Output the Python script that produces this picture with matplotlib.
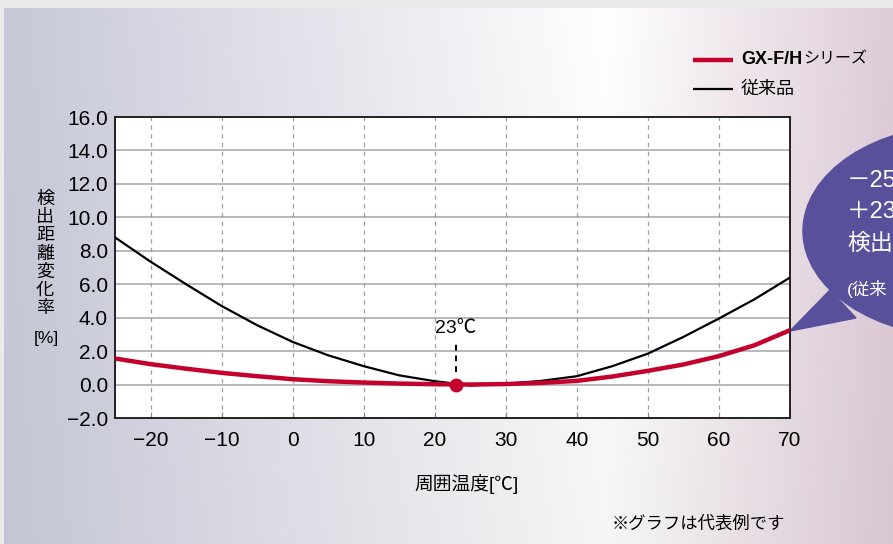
import matplotlib

matplotlib.use("Agg")
import matplotlib.pyplot as plt
import numpy as np
from matplotlib.patches import Ellipse, Polygon

plt.rcParams["font.family"] = ["Liberation Sans", "Noto Sans CJK JP", "DejaVu Sans"]

# 周囲温度 [℃]
temps = [-25, -20, -15, -10, -5, 0, 5, 10, 15, 20, 25, 30, 35, 40, 45, 50, 55, 60, 65, 70]
# 従来品
conventional = [8.8, 7.35, 6.0, 4.7, 3.55, 2.55, 1.75, 1.1, 0.55, 0.2, -0.05, 0.05,
                0.22, 0.5, 1.1, 1.85, 2.85, 3.95, 5.1, 6.4]
# GX-F/Hシリーズ
gxfh = [1.56, 1.22, 0.95, 0.7, 0.5, 0.32, 0.2, 0.12, 0.06, 0.02, 0.0, 0.03,
        0.1, 0.22, 0.48, 0.82, 1.2, 1.7, 2.35, 3.25]
ref_temp = 23
ref_label = "23℃"
x_ticks = [-20, -10, 0, 10, 20, 30, 40, 50, 60, 70]
y_ticks = [-2, 0, 2, 4, 6, 8, 10, 12, 14, 16]

W, H = 893, 544
RED = "#c4002d"
PURPLE = "#58509a"

fig = plt.figure(figsize=(W / 100, H / 100), dpi=100)

# 背景グラデーション
bg = fig.add_axes([0, 0, 1, 1], zorder=0)
bg.set_xlim(0, W)
bg.set_ylim(H, 0)
bg.axis("off")
xs = np.linspace(0, 1, W)
ys = np.linspace(0, 1, H)
left = np.array([0.78, 0.785, 0.845])
mid = np.array([1.0, 1.0, 1.0])
right = np.array([0.87, 0.80, 0.85])
t = xs[None, :, None]
pivot = 0.68
row = np.where(t < pivot,
               left + (mid - left) * (t / pivot),
               mid + (right - mid) * ((t - pivot) / (1 - pivot)))
img = np.repeat(row, H, axis=0)
img = img - 0.035 * ys[:, None, None] * (1 - np.abs(xs[None, :, None] - pivot))
img = np.clip(img, 0, 1)
img[:8, :, :] = 0.92
img[:, :4, :] = 0.92
bg.imshow(img, extent=(0, W, H, 0), aspect="auto", interpolation="bilinear")

# 吹き出し
bg.add_patch(Ellipse((963, 231), 320, 212, color=PURPLE, zorder=2))
bg.add_patch(Polygon([(790, 331), (830, 290), (856, 318)], closed=True,
                     color=PURPLE, zorder=2))
for txt, yy, fs in [("－25", 181, 17), ("＋23", 212, 17), ("検出", 243, 16.5), ("(従来", 289, 12.5)]:
    bg.text(847, yy, txt, color="white", fontsize=fs, va="center", ha="left", zorder=3)

# 凡例
bg.plot([693, 733], [60, 60], color=RED, lw=3.2, solid_capstyle="butt")
bg.plot([693, 733], [89, 89], color="black", lw=1.6, solid_capstyle="butt")
t1 = bg.text(741, 60, "GX-F/H", fontsize=13, fontweight="bold", va="center", ha="left")
fig.canvas.draw()
bb = t1.get_window_extent(fig.canvas.get_renderer())
bg.text(bb.x1 + 1, 59, "シリーズ", fontsize=11.5, va="center", ha="left")
bg.text(741, 89, "従来品", fontsize=13, va="center", ha="left")

# 軸ラベル・注記
bg.text(45, 254, "\n".join("検出距離変化率"), fontsize=13, ha="center", va="center",
        linespacing=1.1)
bg.text(46, 339, "[%]", fontsize=12.5, ha="center", va="center")
bg.text(467, 484, "周囲温度[℃]", fontsize=13.5, ha="center", va="center")
bg.text(612, 523, "※グラフは代表例です", fontsize=12.5, ha="left", va="center")

# メインのグラフ
ax = fig.add_axes([115 / W, 1 - 418 / H, 675 / W, 301 / H], zorder=1)
ax.set_facecolor("white")
ax.set_xlim(-25, 70)
ax.set_ylim(-2, 16)
for y in y_ticks[1:-1]:
    ax.axhline(y, color="#a4a4ac", lw=1.1, zorder=1)
for x in x_ticks:
    ax.axvline(x, color="#a0a0a0", lw=0.9, ls=(0, (3.5, 3.5)), zorder=1)

ax.plot(temps, conventional, color="black", lw=1.6, zorder=3)
ax.plot(temps, gxfh, color=RED, lw=3.2, zorder=4, solid_capstyle="round")
ax.plot([ref_temp], [0], "o", color=RED, ms=9, zorder=5)
ax.plot([ref_temp, ref_temp], [0.75, 2.55], color="black", lw=1.4, ls=(0, (3, 2.5)), zorder=5)
ax.text(ref_temp, 3.35, ref_label, fontsize=14, ha="center", va="center", zorder=5)

ax.set_xticks(x_ticks)
ax.set_xticklabels([str(v).replace("-", "−") for v in x_ticks])
ax.set_yticks(y_ticks)
ax.set_yticklabels([f"{v:.1f}".replace("-", "−") for v in y_ticks])
ax.tick_params(axis="x", direction="in", length=4, width=0.8, color="#888888",
               labelsize=15, pad=9)
ax.tick_params(axis="y", length=0, labelsize=15, pad=5)
for s in ax.spines.values():
    s.set_linewidth(1.4)
    s.set_color("#222222")

fig.savefig("out.png", dpi=100)
